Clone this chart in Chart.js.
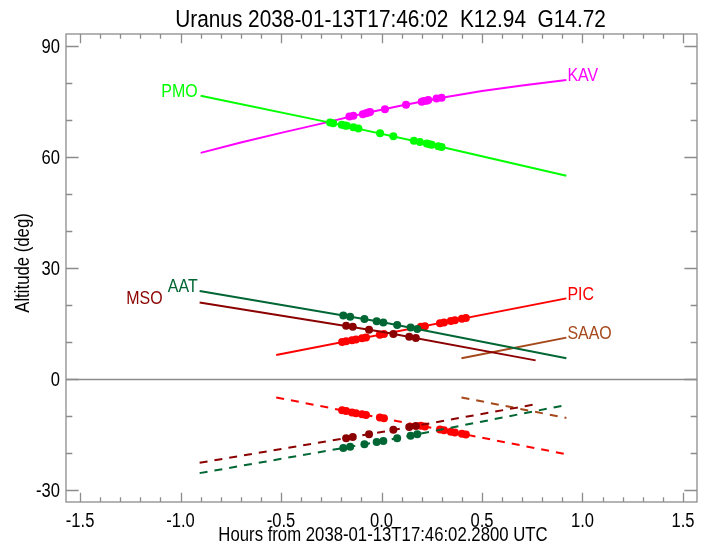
<!DOCTYPE html>
<html>
<head>
<meta charset="utf-8">
<script src="https://cdn.jsdelivr.net/npm/chart.js@4.4.1/dist/chart.umd.min.js"></script>
<style>
  html, body { margin: 0; padding: 0; background: #fff; }
  #wrap { width: 708px; height: 544px; }
</style>
</head>
<body>
<div id="wrap"><canvas id="alt-chart"></canvas></div>
<script>
  // axis ticks
  const xTicks = [-1.5, -1.0, -0.5, 0.0, 0.5, 1.0, 1.5];
  const yTicks = [-30, 0, 30, 60, 90];

  // altitude tracks (hours from reference time, degrees)
  const pmoLineX = [-0.9, -0.25, 0.3, 0.92];
  const pmoLineY = [76.5, 69.2, 62.7, 54.9];
  const kavLineX = [-0.9, -0.7, -0.5, -0.3, -0.1, 0.1, 0.3, 0.5, 0.7, 0.92];
  const kavLineY = [61.1, 63.9, 66.5, 69.0, 71.6, 73.9, 76.0, 77.8, 79.3, 80.8];
  const aatLineX = [-0.905, 0.0, 0.92];
  const aatLineY = [23.8, 15.4, 5.6];
  const aatDashY = [-25.4, -16.8, -7.0];
  const msoLineX = [-0.905, 0.0, 0.767];
  const msoLineY = [20.7, 12.8, 5.05];
  const msoDashY = [-22.6, -14.3, -6.8];
  const picLineX = [-0.524, 0.92];
  const picLineY = [6.5, 21.8];
  const picDashY = [-4.95, -20.3];
  const saaoLineX = [0.398, 0.92];
  const saaoLineY = [5.6, 11.2];
  const saaoDashY = [-4.95, -10.5];

  // observation points
  const pmoDotX = [-0.256, -0.24, -0.198, -0.182, -0.173, -0.14, -0.115, -0.007, 0.059, 0.161, 0.191, 0.225, 0.238, 0.25, 0.283, 0.299];
  const pmoDotY = [69.3, 69.1, 68.7, 68.5, 68.4, 68.0, 67.7, 66.4, 65.6, 64.4, 64.0, 63.6, 63.4, 63.3, 62.9, 62.7];
  const kavDotX = [-0.16, -0.14, -0.093, -0.077, -0.064, -0.057, 0.017, 0.122, 0.2, 0.211, 0.225, 0.233, 0.274, 0.299];
  const kavDotY = [70.9, 71.1, 71.5, 71.8, 72.0, 72.1, 72.9, 74.1, 74.9, 75.1, 75.2, 75.4, 75.8, 76.0];
  const aatDotX = [-0.19, -0.156, -0.085, -0.024, 0.009, 0.078, 0.145, 0.178];
  const aatDotY = [17.2, 16.8, 16.2, 15.6, 15.3, 14.6, 13.9, 13.5];
  const aatDashDotY = [-18.6, -18.3, -17.6, -17.0, -16.7, -16.0, -15.3, -14.9];
  const msoDotX = [-0.176, -0.143, -0.062, 0.059, 0.138, 0.171];
  const msoDotY = [14.4, 14.1, 13.3, 12.2, 11.4, 11.1];
  const msoDashDotY = [-15.95, -15.65, -14.9, -13.7, -12.95, -12.65];
  const picDotX = [-0.196, -0.176, -0.147, -0.127, -0.097, -0.077, -0.008, 0.012, 0.196, 0.216, 0.291, 0.311, 0.345, 0.365, 0.4, 0.42];
  const picDotY = [10.0, 10.2, 10.5, 10.7, 11.0, 11.2, 12.0, 12.2, 14.1, 14.3, 15.1, 15.3, 15.7, 15.9, 16.3, 16.5];
  const picDashDotY = [-8.4, -8.6, -9.0, -9.2, -9.5, -9.7, -10.4, -10.6, -12.6, -12.8, -13.6, -13.8, -14.2, -14.4, -14.8, -15.0];

  const FONT = "'Liberation Sans', Arial, sans-serif";
  const SQUEEZE = 0.85; // the plot font is a narrow Helvetica
  const AXIS = "#8c8c8c";

  const pts = (xs, ys) => xs.map((x, i) => ({ x: x, y: ys[i] }));

  const tracks = [
    { name: "PMO", color: "#00ff00", x: pmoLineX, y: pmoLineY, dotX: pmoDotX, dotY: pmoDotY, side: "start", dx: -3 },
    { name: "KAV", color: "#ff00ff", x: kavLineX, y: kavLineY, dotX: kavDotX, dotY: kavDotY, side: "end", dx: 1 },
    { name: "AAT", color: "#006633", x: aatLineX, y: aatLineY, dash: aatDashY, dotX: aatDotX, dotY: aatDotY, dashDotY: aatDashDotY, side: "start", dx: -2 },
    { name: "MSO", color: "#8b0000", x: msoLineX, y: msoLineY, dash: msoDashY, dotX: msoDotX, dotY: msoDotY, dashDotY: msoDashDotY, side: "start", dx: -37 },
    { name: "PIC", color: "#ff0000", x: picLineX, y: picLineY, dash: picDashY, dotX: picDotX, dotY: picDotY, dashDotY: picDashDotY, side: "end", dx: 1 },
    { name: "SAAO", color: "#a5481a", x: saaoLineX, y: saaoLineY, dash: saaoDashY, side: "end", dx: 1 }
  ];

  const datasets = [];
  tracks.forEach((t) => {
    datasets.push({ data: pts(t.x, t.y), showLine: true, borderColor: t.color, borderWidth: 2, pointRadius: 0 });
    if (t.dash) {
      datasets.push({ data: pts(t.x, t.dash), showLine: true, borderColor: t.color, borderWidth: 2, borderDash: [8, 7], pointRadius: 0 });
    }
    if (t.dotX) {
      datasets.push({ data: pts(t.dotX, t.dotY), showLine: false, pointRadius: 4, pointBackgroundColor: t.color, pointBorderWidth: 0 });
      if (t.dashDotY) {
        datasets.push({ data: pts(t.dotX, t.dashDotY), showLine: false, pointRadius: 4, pointBackgroundColor: t.color, pointBorderWidth: 0 });
      }
    }
  });

  function text(ctx, str, x, y, size, align, color, rot) {
    ctx.save();
    ctx.translate(x, y);
    if (rot) ctx.rotate(rot);
    ctx.scale(SQUEEZE, 1);
    ctx.font = size + "px " + FONT;
    ctx.textAlign = align;
    ctx.textBaseline = "alphabetic";
    ctx.fillStyle = color;
    ctx.fillText(str, 0, 0);
    ctx.restore();
  }

  // box, inward ticks, zero line, all text
  const decor = {
    id: "decor",
    beforeDatasetsDraw(chart) {
      const { ctx, chartArea: a, scales: { y } } = chart;
      const y0 = Math.round(y.getPixelForValue(0)) + 0.5;
      ctx.save();
      ctx.strokeStyle = AXIS;
      ctx.lineWidth = 1.3;
      ctx.beginPath();
      ctx.moveTo(a.left, y0);
      ctx.lineTo(a.right, y0);
      ctx.stroke();
      ctx.restore();
    },
    afterDraw(chart) {
      const { ctx, chartArea: a, scales: { x, y } } = chart;
      ctx.save();
      ctx.strokeStyle = AXIS;
      ctx.lineWidth = 1.3;
      ctx.strokeRect(a.left, a.top, a.right - a.left, a.bottom - a.top);

      const xLen = 0.02 * (a.bottom - a.top);
      const yLen = 0.02 * (a.right - a.left);
      ctx.beginPath();
      for (let i = -15; i <= 15; i++) {
        const px = Math.round(x.getPixelForValue(i / 10)) + 0.5;
        const len = i % 5 === 0 ? xLen : xLen / 2;
        ctx.moveTo(px, a.bottom); ctx.lineTo(px, a.bottom - len);
        ctx.moveTo(px, a.top); ctx.lineTo(px, a.top + len);
      }
      for (let v = -30; v <= 90; v += 10) {
        const py = Math.round(y.getPixelForValue(v)) + 0.5;
        const len = v % 30 === 0 ? yLen : yLen / 2;
        ctx.moveTo(a.left, py); ctx.lineTo(a.left + len, py);
        ctx.moveTo(a.right, py); ctx.lineTo(a.right - len, py);
      }
      ctx.stroke();
      ctx.restore();

      xTicks.forEach((v) => text(ctx, v.toFixed(1), x.getPixelForValue(v), a.bottom + 25, 19.5, "center", "#000"));
      yTicks.forEach((v) => text(ctx, String(v), a.left - 6, y.getPixelForValue(v) + 7, 19.5, "right", "#000"));

      text(ctx, "Hours from 2038-01-13T17:46:02.2800 UTC", x.getPixelForValue(0) + 1.5, 541, 19.7, "center", "#000");
      text(ctx, "Altitude (deg)", 29, 263, 19.7, "center", "#000", -Math.PI / 2);
      text(ctx, "Uranus 2038-01-13T17:46:02  K12.94  G14.72", 390.5, 27, 24.5, "center", "#000");

      tracks.forEach((t) => {
        const i = t.side === "start" ? 0 : t.x.length - 1;
        text(ctx, t.name, x.getPixelForValue(t.x[i]) + t.dx, y.getPixelForValue(t.y[i]) + 1.5,
          18.8, t.side === "start" ? "right" : "left", t.color);
      });
    }
  };

  new Chart(document.getElementById("alt-chart"), {
    type: "scatter",
    data: { datasets: datasets },
    plugins: [decor],
    options: {
      responsive: true,
      maintainAspectRatio: false,
      animation: false,
      events: [],
      layout: { padding: { top: 34, right: 11, left: 0, bottom: 0 } },
      plugins: { legend: { display: false }, tooltip: { enabled: false } },
      scales: {
        x: {
          type: "linear",
          min: -1.57,
          max: 1.57,
          afterFit: (s) => { s.height = 42; },
          afterBuildTicks: (s) => { s.ticks = xTicks.map((v) => ({ value: v })); },
          grid: { display: false, drawTicks: false },
          border: { display: false },
          ticks: { display: false }
        },
        y: {
          type: "linear",
          min: -33.2,
          max: 93.2,
          afterFit: (s) => { s.width = 66; },
          afterBuildTicks: (s) => { s.ticks = yTicks.map((v) => ({ value: v })); },
          grid: { display: false, drawTicks: false },
          border: { display: false },
          ticks: { display: false }
        }
      }
    }
  });
</script>
</body>
</html>
